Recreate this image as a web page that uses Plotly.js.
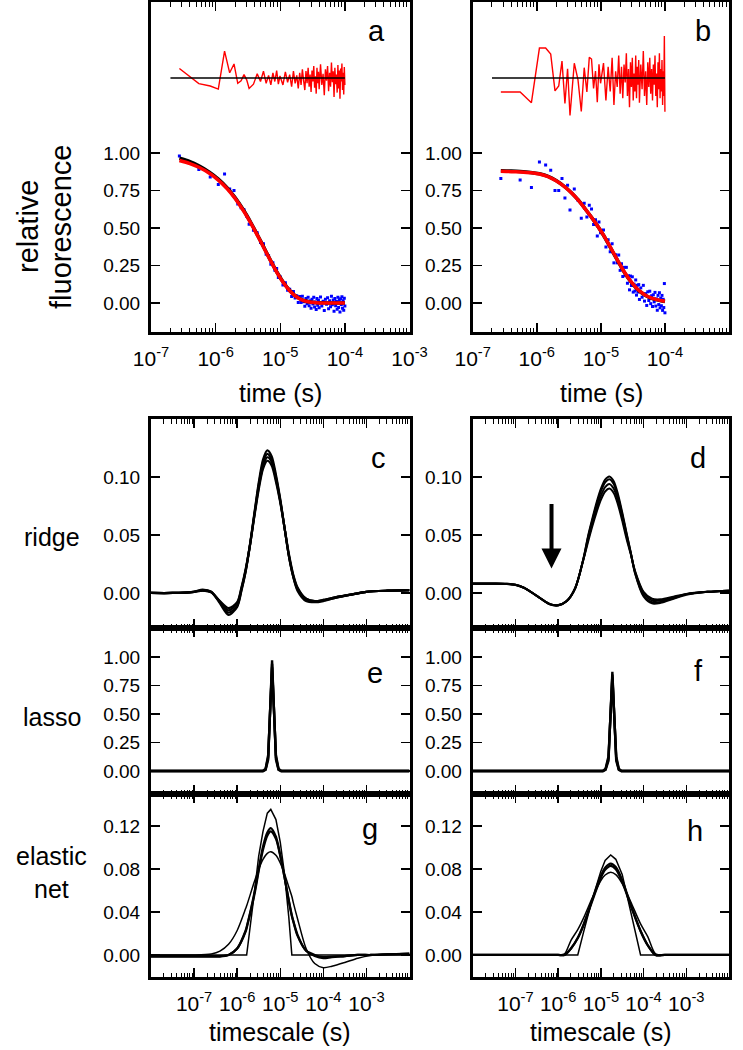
<!DOCTYPE html>
<html><head><meta charset="utf-8">
<script src="https://cdn.plot.ly/plotly-3.0.1.min.js"></script>
<style>html,body{margin:0;padding:0;background:#fff}#chart{width:743px;height:1050px}</style>
</head><body><div id="chart"></div>
<script>
// ---------- panels a / b : fluorescence decays ----------
const T_DATA = [2.75e-7,5.5e-7,8.25e-7,1.1e-6,1.375e-6,1.65e-6,1.925e-6,2.2e-6,2.475e-6,2.75e-6,3.025e-6,3.3e-6,
 3.85e-6,4.4e-6,4.95e-6,5.5e-6,6.05e-6,6.6e-6,7.15e-6,7.7e-6,8.25e-6,8.8e-6,9.35e-6,9.9e-6,
 1.1e-5,1.2e-5,1.3e-5,1.4e-5,1.5e-5,1.6e-5,1.7e-5,1.8e-5,1.9e-5,2.0e-5,
 2.1e-5,2.2e-5,2.3e-5,2.4e-5,2.5e-5,2.6e-5,2.7e-5,2.8e-5,2.9e-5,3.0e-5,
 3.1e-5,3.2e-5,3.3e-5,3.4e-5,3.5e-5,3.6e-5,3.7e-5,3.8e-5,3.9e-5,4.0e-5,
 4.2e-5,4.4e-5,4.6e-5,4.8e-5,5.0e-5,5.2e-5,5.4e-5,5.6e-5,5.8e-5,6.0e-5,6.2e-5,6.4e-5,6.6e-5,6.8e-5,7.0e-5,
 7.2e-5,7.4e-5,7.6e-5,7.8e-5,8.0e-5,8.2e-5,8.4e-5,8.6e-5,8.8e-5,9.0e-5,9.2e-5,9.4e-5,9.6e-5,9.8e-5,1.0e-4];

const A_DATA = [0.98,0.89,0.84,0.79,0.86,0.76,0.75,0.66,0.635,0.622,0.578,0.525,
 0.485,0.468,0.403,0.395,0.325,0.316,0.259,0.268,0.219,0.230,0.170,0.177,
 0.120,0.135,0.086,0.092,0.044,0.077,0.033,0.048,0.004,0.043,
 0.003,0.045,0.008,-0.021,0.031,-0.005,0.038,-0.018,0.016,-0.035,
 0.026,-0.007,0.038,-0.026,0.007,-0.043,0.031,-0.014,0.019,-0.031,
 0.04,-0.02,0.012,-0.05,0.025,-0.008,0.035,-0.038,0.015,-0.025,0.045,-0.012,0.02,-0.055,0.03,
 -0.018,0.01,-0.042,0.038,-0.03,0.022,-0.06,0.028,-0.01,0.042,-0.035,0.015,-0.048,0.032,-0.02];

const A_RESID = [0.064,-0.037,-0.053,-0.074,0.18,0.035,0.094,-0.035,-0.018,0.023,-0.012,-0.069,
 -0.041,0.028,-0.023,0.046,-0.035,0.018,-0.046,0.035,-0.023,0.05,-0.041,0.014,
 -0.046,0.041,-0.028,0.023,-0.058,0.046,-0.035,0.018,-0.069,0.035,
 -0.046,0.058,-0.018,-0.08,0.046,-0.035,0.069,-0.058,0.023,-0.092,
 0.05,-0.023,0.08,-0.064,0.012,-0.104,0.069,-0.035,0.041,-0.074,
 0.092,-0.046,0.028,-0.115,0.058,-0.018,0.08,-0.087,0.035,-0.058,0.104,-0.028,0.046,-0.127,0.069,
 -0.041,0.023,-0.097,0.087,-0.069,0.05,-0.138,0.064,-0.023,0.097,-0.08,0.035,-0.11,0.074,-0.046];

const B_DATA = [0.830,0.820,0.770,0.940,0.920,0.886,0.750,0.750,0.830,0.700,0.785,0.620,
 0.760,0.685,0.565,0.666,0.573,0.652,0.627,0.523,0.555,0.447,0.540,0.469,
 0.487,0.374,0.422,0.342,0.395,0.268,0.322,0.268,0.320,0.218,
 0.262,0.177,0.238,0.185,0.238,0.132,0.182,0.088,0.180,0.117,
 0.175,0.073,0.126,0.080,0.154,0.053,0.118,0.073,0.123,0.024,
 0.101,0.039,0.118,0.013,0.063,-0.016,0.075,0.017,0.079,-0.004,0.049,-0.023,0.055,0.008,0.071,
 -0.020,0.028,-0.048,0.051,-0.010,0.069,-0.032,0.032,-0.018,0.051,-0.049,0.025,-0.030,0.130,-0.065];

const B_RESID = [-0.093,-0.093,-0.164,0.2,0.2,0.16,-0.086,-0.053,0.113,-0.17,0.062,-0.25,
 0.099,-0.012,-0.223,0.069,-0.092,0.138,0.127,-0.069,0.046,-0.161,0.092,-0.035,
 0.10,-0.15,0.075,-0.09,0.135,-0.18,0.045,-0.06,0.15,-0.105,
 0.075,-0.135,0.09,-0.03,0.165,-0.12,0.06,-0.195,0.105,-0.06,
 0.135,-0.15,0.03,-0.09,0.15,-0.135,0.075,-0.045,0.12,-0.165,
 0.09,-0.075,0.18,-0.12,0.045,-0.18,0.105,-0.06,0.135,-0.105,0.06,-0.15,0.09,-0.045,0.15,
 -0.12,0.03,-0.195,0.105,-0.075,0.165,-0.135,0.06,-0.09,0.12,-0.18,0.045,-0.12,0.28,-0.225];

const T_FIT = [2.75e-7,4e-7,5.5e-7,8e-7,1.1e-6,1.5e-6,2e-6,2.7e-6,3.5e-6,4.5e-6,5.5e-6,7e-6,9e-6,1.1e-5,1.4e-5,1.8e-5,2.3e-5,3e-5,4e-5,5.5e-5,7.5e-5,1e-4];
const A_FIT_BLACK = [0.965,0.943,0.915,0.873,0.827,0.770,0.703,0.620,0.537,0.449,0.376,0.288,0.202,0.142,0.084,0.041,0.017,0.006,0.002,0.001,0.000,0.000];
const A_FIT_RED   = [0.950,0.930,0.905,0.865,0.820,0.764,0.698,0.615,0.533,0.446,0.374,0.286,0.200,0.140,0.082,0.040,0.016,0.005,0.001,0.000,0.000,0.000];
const B_FIT_BLACK = [0.882,0.880,0.877,0.871,0.862,0.845,0.817,0.777,0.734,0.684,0.636,0.577,0.510,0.452,0.372,0.288,0.208,0.137,0.079,0.040,0.021,0.010];
const B_FIT_RED   = [0.878,0.876,0.873,0.868,0.860,0.843,0.815,0.776,0.733,0.683,0.636,0.577,0.511,0.453,0.374,0.290,0.210,0.139,0.081,0.042,0.023,0.012];
const RESID_ZERO_T = [2e-7, 1e-4];

// ---------- panels c / d : ridge ----------
const TAU_C = [1e-8,3.16e-8,1e-7,1.58e-7,2.51e-7,3.98e-7,6.31e-7,1e-6,1.26e-6,1.58e-6,2e-6,2.51e-6,3.16e-6,3.98e-6,5.01e-6,6.31e-6,7.94e-6,1e-5,1.26e-5,1.58e-5,2e-5,2.51e-5,3.98e-5,6.31e-5,1e-4,2e-4,5.01e-4,1e-3,3.16e-3,1e-2];
const RIDGE_C1 = [0,0,0.001,0.003,0.001,-0.009,-0.019,-0.012,0.002,0.019,0.043,0.069,0.095,0.115,0.123,0.118,0.102,0.081,0.056,0.032,0.014,0.002,-0.007,-0.008,-0.007,-0.004,-0.001,0.001,0.002,0.0025];
const RIDGE_C2 = [0,0,0.001,0.0025,0.001,-0.008,-0.017,-0.011,0.003,0.019,0.042,0.068,0.093,0.112,0.120,0.115,0.100,0.080,0.056,0.032,0.014,0.003,-0.006,-0.0075,-0.0065,-0.004,-0.001,0.001,0.002,0.0025];
const RIDGE_C3 = [0,0,0.001,0.002,0.0005,-0.0075,-0.015,-0.009,0.004,0.020,0.042,0.067,0.091,0.109,0.117,0.113,0.098,0.079,0.056,0.033,0.015,0.004,-0.005,-0.007,-0.006,-0.0035,-0.001,0.001,0.002,0.0025];
const RIDGE_C4 = [0,0,0.001,0.002,0.0005,-0.007,-0.013,-0.008,0.005,0.021,0.042,0.066,0.089,0.107,0.114,0.110,0.096,0.078,0.056,0.034,0.016,0.005,-0.005,-0.007,-0.006,-0.0035,-0.001,0.001,0.002,0.0025];

const TAU_D = [1e-8,3.16e-8,6.31e-8,1e-7,1.58e-7,2.51e-7,3.98e-7,6.31e-7,1e-6,1.58e-6,2.51e-6,3.98e-6,5.01e-6,6.31e-6,7.94e-6,1e-5,1.26e-5,1.58e-5,2e-5,2.51e-5,3.16e-5,3.98e-5,5.01e-5,6.31e-5,1e-4,1.58e-4,2.51e-4,5.01e-4,1e-3,3.16e-3,1e-2];
const RIDGE_D1 = [0.0082,0.0082,0.008,0.0072,0.0046,0.000,-0.0052,-0.0098,-0.0108,-0.0072,0.004,0.031,0.049,0.064,0.078,0.0897,0.0977,0.1005,0.0963,0.0853,0.0696,0.052,0.035,0.017,-0.003,-0.009,-0.0085,-0.005,-0.0015,0.001,0.002];
const RIDGE_D2 = [0.0081,0.0081,0.0079,0.0071,0.0045,0.000,-0.005,-0.0096,-0.0106,-0.0071,0.004,0.0305,0.048,0.0625,0.076,0.0875,0.0953,0.098,0.094,0.0832,0.068,0.051,0.0348,0.0175,-0.002,-0.008,-0.0078,-0.0045,-0.0012,0.001,0.002];
const RIDGE_D3 = [0.008,0.008,0.0078,0.007,0.0045,0.000,-0.005,-0.0095,-0.0105,-0.007,0.0042,0.0302,0.046,0.060,0.0728,0.0839,0.0913,0.094,0.090,0.0798,0.0652,0.049,0.0342,0.0185,0.000,-0.0065,-0.0066,-0.0038,-0.001,0.001,0.002];
const RIDGE_D4 = [0.0079,0.0079,0.0077,0.0069,0.0044,0.000,-0.0049,-0.0094,-0.0104,-0.0069,0.0044,0.030,0.044,0.0575,0.0697,0.0803,0.0875,0.090,0.0862,0.0764,0.0625,0.047,0.0335,0.019,0.001,-0.005,-0.0055,-0.0032,-0.0008,0.001,0.002];
const ARROW_TAU = 7e-7, ARROW_TIP = 0.021, ARROW_TAIL = 0.078;

// ---------- panels e / f : lasso ----------
const TAU_E = [1e-8,3.98e-6,4.57e-6,5.25e-6,6.46e-6,7.94e-6,9.12e-6,1.05e-5,1e-2];
const LASSO_E1 = [0,0,0.01,0.10,0.97,0.10,0.01,0,0];
const LASSO_E2 = [0,0,0.015,0.12,0.94,0.12,0.015,0,0];
const LASSO_E3 = [0,0,0.02,0.14,0.91,0.14,0.02,0,0];
const TAU_F = [1e-8,1.12e-5,1.29e-5,1.51e-5,1.86e-5,2.29e-5,2.63e-5,3.02e-5,1e-2];
const LASSO_F1 = [0,0,0.01,0.09,0.87,0.09,0.01,0,0];
const LASSO_F2 = [0,0,0.015,0.11,0.845,0.11,0.015,0,0];
const LASSO_F3 = [0,0,0.02,0.13,0.82,0.13,0.02,0,0];

// ---------- panels g / h : elastic net ----------
const TAU_G = [1e-8,1e-7,2.51e-7,3.98e-7,6.31e-7,1e-6,1.58e-6,1.66e-6,2.51e-6,3.16e-6,3.98e-6,5.01e-6,6.03e-6,7.94e-6,1e-5,1.26e-5,1.58e-5,1.86e-5,2e-5,2.51e-5,3.98e-5,6.31e-5,1e-4,1.58e-4,3.16e-4,6.31e-4,1.26e-3,3.16e-3,1e-2];
const ENET_G_TALL   = [0,0,0,0,0,0,0,0,0.058,0.092,0.115,0.132,0.1355,0.126,0.105,0.075,0.035,0,0,0,0,0,0,0,0,0,0,0,0];
const ENET_G_THICK1 = [-0.001,-0.001,-0.001,-0.001,0.000,0.006,0.023,0.026,0.058,0.080,0.101,0.114,0.118,0.110,0.093,0.072,0.050,0.036,0.0315,0.018,0.004,0.000,-0.002,-0.0015,-0.001,0.000,0.000,0.0005,0.001];
const ENET_G_THICK2 = [-0.0015,-0.0015,-0.0015,-0.0015,0.000,0.006,0.022,0.025,0.056,0.078,0.098,0.111,0.115,0.108,0.092,0.072,0.051,0.037,0.032,0.019,0.004,-0.001,-0.003,-0.002,-0.001,0.000,0.000,0.0005,0.001];
const ENET_G_LOW    = [0,0,0.001,0.0036,0.0099,0.0228,0.0434,0.0457,0.0683,0.0798,0.0889,0.0945,0.096,0.0927,0.0856,0.0754,0.0633,0.0544,0.049,0.034,0.006,-0.008,-0.0118,-0.0105,-0.007,-0.003,-0.0005,0.0008,0.0015];

const TAU_H = [1e-8,3.16e-7,1e-6,1.41e-6,2e-6,2.88e-6,3.98e-6,6.31e-6,1e-5,1.26e-5,1.7e-5,2.24e-5,3.16e-5,5.01e-5,8.51e-5,1.26e-4,1.91e-4,3.16e-4,1e-3,1e-2];
const ENET_H_TALL   = [0,0,0,0,0,0,0.022,0.052,0.078,0.088,0.093,0.089,0.075,0.040,0,0,0,0,0,0];
const ENET_H_THICK1 = [0,0,0,0,0.006,0.016,0.029,0.0516,0.0737,0.0812,0.085,0.0818,0.0698,0.0468,0.0226,0.009,0,0,0,0];
const ENET_H_THICK2 = [0,0,0,0,0.006,0.0155,0.028,0.0503,0.0719,0.0792,0.083,0.0798,0.0681,0.0457,0.0221,0.0088,0,0,0,0];
const ENET_H_LOW    = [0,0,0,0.001,0.0136,0.0236,0.0348,0.0532,0.0693,0.0744,0.077,0.0748,0.0665,0.0495,0.0289,0.0169,0.001,0,0,0];

// ---------- ticks ----------
const X_TICKS = [1e-7,1e-6,1e-5,1e-4,1e-3];
const X_TICKTEXT = ['10<sup>-7</sup>','10<sup>-6</sup>','10<sup>-5</sup>','10<sup>-4</sup>','10<sup>-3</sup>'];
const Y_TICKS_FLUOR = [0,0.25,0.5,0.75,1];
const Y_TICKS_RIDGE = [0,0.05,0.1];
const Y_TICKS_LASSO = [0,0.25,0.5,0.75,1];
const Y_TICKS_ENET = [0,0.04,0.08,0.12];

const RES_BASE = 1.5;
const FONT = 'Liberation Sans, Arial, Helvetica, sans-serif';
const W = 743, H = 1050;
const px = v => v / W, py = v => 1 - v / H;

const XL = [px(151), px(409.5)], XR = [px(472.7), px(729)];
const YTOP = [py(332), py(2)], YC = [py(628), py(419)], YE = [py(794), py(628)], YG = [py(977), py(794)];

function xax(domain, range, showLabels, anchor, standoff) {
  return {type:'log', domain, range, anchor, showgrid:false, zeroline:false,
    showline:true, linewidth:3, linecolor:'#000', mirror:'allticks',
    ticks:'inside', ticklen:9, tickwidth:1.5, tickcolor:'#000',
    tickmode:'array', tickvals:X_TICKS, ticktext:X_TICKTEXT, showticklabels:showLabels,
    tickfont:{family:FONT, size:21, color:'#000'}, ticklabelstandoff:standoff,
    minor:{ticks:'inside', ticklen:4.5, tickwidth:1, tickcolor:'#000', dtick:'D1', showgrid:false}};
}
function yax(domain, range, vals, anchor) {
  return {domain, range, anchor, showgrid:false, zeroline:false,
    showline:true, linewidth:3, linecolor:'#000', mirror:'allticks',
    ticks:'inside', ticklen:9, tickwidth:1.5, tickcolor:'#000',
    tickmode:'array', tickvals:vals, tickformat:'.2f',
    tickfont:{family:FONT, size:19, color:'#000'}, ticklabelstandoff:4};
}

const traces = [];
function line(x, y, xa, ya, color, width, shape) {
  traces.push({x, y, xaxis:xa, yaxis:ya, type:'scatter', mode:'lines',
    line:{color, width, shape: shape || 'linear', smoothing: 0.8}, hoverinfo:'skip', showlegend:false});
}
function dots(x, y, xa, ya) {
  traces.push({x, y, xaxis:xa, yaxis:ya, type:'scatter', mode:'markers',
    marker:{color:'#0000ff', size:3, symbol:'square', line:{width:0}}, hoverinfo:'skip', showlegend:false});
}

// a
line(T_DATA, A_RESID.map(r => RES_BASE + r), 'x', 'y', '#ff0000', 1.4);
line(RESID_ZERO_T, RESID_ZERO_T.map(() => RES_BASE), 'x', 'y', '#000', 1.6);
dots(T_DATA, A_DATA, 'x', 'y');
line(T_FIT, A_FIT_BLACK, 'x', 'y', '#000', 3.5, 'spline');
line(T_FIT, A_FIT_RED, 'x', 'y', '#ff0000', 3.5, 'spline');
// b
line(T_DATA, B_RESID.map(r => RES_BASE + r), 'x2', 'y2', '#ff0000', 1.4);
line(RESID_ZERO_T, RESID_ZERO_T.map(() => RES_BASE), 'x2', 'y2', '#000', 1.6);
dots(T_DATA, B_DATA, 'x2', 'y2');
line(T_FIT, B_FIT_BLACK, 'x2', 'y2', '#000', 3.5, 'spline');
line(T_FIT, B_FIT_RED, 'x2', 'y2', '#ff0000', 3.5, 'spline');
// c, d
[RIDGE_C1, RIDGE_C2, RIDGE_C3, RIDGE_C4].forEach(v => line(TAU_C, v, 'x3', 'y3', '#000', 2.2, 'spline'));
[RIDGE_D1, RIDGE_D2, RIDGE_D3, RIDGE_D4].forEach(v => line(TAU_D, v, 'x4', 'y4', '#000', 2, 'spline'));
// e, f
[LASSO_E1, LASSO_E2, LASSO_E3].forEach(v => line(TAU_E, v, 'x5', 'y5', '#000', 2.4));
[LASSO_F1, LASSO_F2, LASSO_F3].forEach(v => line(TAU_F, v, 'x6', 'y6', '#000', 2.4));
// g, h
line(TAU_G, ENET_G_TALL, 'x7', 'y7', '#000', 1.5);
line(TAU_G, ENET_G_LOW, 'x7', 'y7', '#000', 1.5, 'spline');
line(TAU_G, ENET_G_THICK1, 'x7', 'y7', '#000', 2.2, 'spline');
line(TAU_G, ENET_G_THICK2, 'x7', 'y7', '#000', 2.2, 'spline');
line(TAU_H, ENET_H_TALL, 'x8', 'y8', '#000', 1.5);
line(TAU_H, ENET_H_LOW, 'x8', 'y8', '#000', 1.5, 'spline');
line(TAU_H, ENET_H_THICK1, 'x8', 'y8', '#000', 2.2, 'spline');
line(TAU_H, ENET_H_THICK2, 'x8', 'y8', '#000', 2.2, 'spline');

const layout = {
  width: W, height: H, margin:{l:0, r:0, t:0, b:0}, paper_bgcolor:'#fff', plot_bgcolor:'#fff',
  showlegend:false, font:{family:FONT, color:'#000'},
  xaxis:  xax(XL, [-7,-3], true, 'y', 6),
  yaxis:  yax(YTOP, [-0.193, 2.007], Y_TICKS_FLUOR, 'x'),
  xaxis2: xax(XR, [-7,-3], true, 'y2', 6),
  yaxis2: yax(YTOP, [-0.193, 2.007], Y_TICKS_FLUOR, 'x2'),
  xaxis3: xax(XL, [-8,-2], false, 'y3', 6),
  yaxis3: yax(YC, [-0.0302, 0.150], Y_TICKS_RIDGE, 'x3'),
  xaxis4: xax(XR, [-8,-2], false, 'y4', 6),
  yaxis4: yax(YC, [-0.0302, 0.150], Y_TICKS_RIDGE, 'x4'),
  xaxis5: xax(XL, [-8,-2], false, 'y5', 6),
  yaxis5: yax(YE, [-0.202, 1.254], Y_TICKS_LASSO, 'x5'),
  xaxis6: xax(XR, [-8,-2], false, 'y6', 6),
  yaxis6: yax(YE, [-0.202, 1.254], Y_TICKS_LASSO, 'x6'),
  xaxis7: xax(XL, [-8,-2], true, 'y7', 6),
  yaxis7: yax(YG, [-0.0205, 0.1498], Y_TICKS_ENET, 'x7'),
  xaxis8: xax(XR, [-8,-2], true, 'y8', 6),
  yaxis8: yax(YG, [-0.0205, 0.1498], Y_TICKS_ENET, 'x8'),
  annotations: []
};

function label(text, x, y, size, angle) {
  layout.annotations.push({text, xref:'paper', yref:'paper', x:px(x), y:py(y),
    xanchor:'center', yanchor:'middle', showarrow:false, textangle: angle || 0,
    font:{family:FONT, size, color:'#000'}});
}
label('a', 377, 31, 29); label('b', 703, 31, 29);
label('c', 378, 458, 29); label('d', 698, 458, 29);
label('e', 375, 673, 29); label('f', 698, 671, 29);
label('g', 370, 829, 29); label('h', 695, 831, 29);
label('relative', 28, 226, 29, -90);
label('fluorescence', 61, 227, 29, -90);
label('time (s)', 280, 393, 25); label('time (s)', 601, 393, 25);
label('timescale (s)', 280, 1032, 25); label('timescale (s)', 601, 1032, 25);
label('ridge', 52, 537, 25);
label('lasso', 52, 717, 25);
label('elastic', 52, 856, 25);
label('net', 52, 889, 25);

layout.annotations.push({xref:'x4', yref:'y4', axref:'x4', ayref:'y4',
  x: Math.log10(ARROW_TAU), y: ARROW_TIP, ax: Math.log10(ARROW_TAU), ay: ARROW_TAIL,
  text:'', showarrow:true, arrowhead:2, arrowsize:1, arrowwidth:4, arrowcolor:'#000', standoff:0});

Plotly.newPlot('chart', traces, layout, {staticPlot:true, displayModeBar:false});
</script></body></html>
